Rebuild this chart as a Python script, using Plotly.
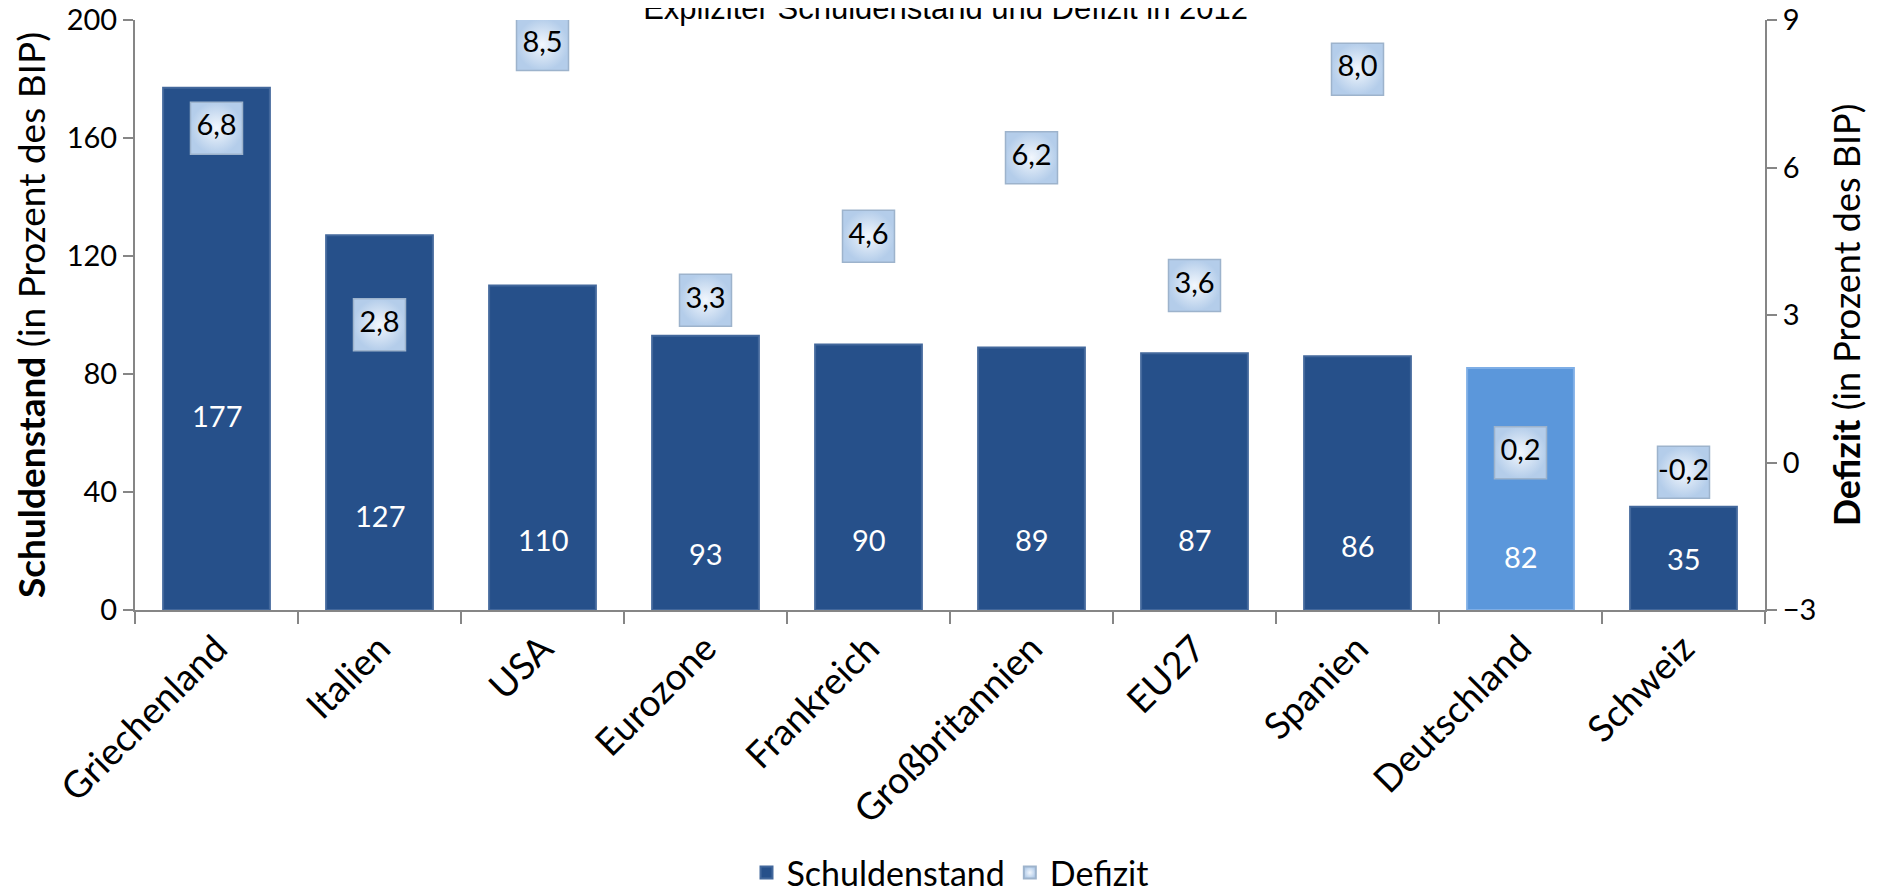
import plotly.graph_objects as go

# data
categories = ['Griechenland', 'Italien', 'USA', 'Eurozone', 'Frankreich',
              'Großbritannien', 'EU27', 'Spanien', 'Deutschland', 'Schweiz']
debt = [177, 127, 110, 93, 90, 89, 87, 86, 82, 35]
deficit = [6.8, 2.8, 8.5, 3.3, 4.6, 6.2, 3.6, 8.0, 0.2, -0.2]

# where the white value labels sit inside the bars (left axis units)
debt_label_y = [66, 32, 24, 19, 24, 24, 24, 22, 18, 17.5]

DARK = '#26508a'
LIGHT = '#5b97db'
FONT = 'Lato, Calibri, sans-serif'

bar_colors = [LIGHT if c == 'Deutschland' else DARK for c in categories]
bar_lines = ['#7eaee6' if c == 'Deutschland' else '#43689c' for c in categories]

fig = go.Figure()

fig.add_trace(go.Bar(
    x=categories,
    y=debt,
    name='Schuldenstand',
    marker=dict(color=bar_colors, line=dict(color=bar_lines, width=2)),
    yaxis='y',
))

fig.add_trace(go.Scatter(
    x=categories,
    y=deficit,
    name='Defizit',
    mode='markers+text',
    text=[f'{v:.1f}'.replace('.', ',') for v in deficit],
    textposition='middle center',
    textfont=dict(family=FONT, size=29, color='black'),
    marker=dict(symbol='square', size=52, color='#b4cdea',
                gradient=dict(type='radial', color='#f2f7fd'),
                line=dict(color='#9db3cc', width=1.5)),
    yaxis='y2',
))

for cat, val, ly in zip(categories, debt, debt_label_y):
    fig.add_annotation(x=cat, y=ly, xref='x', yref='y', text=str(val),
                       showarrow=False,
                       font=dict(family=FONT, size=29, color='white'))

axis_grey = '#868686'

fig.update_layout(
    width=1879, height=889,
    margin=dict(l=127, r=122, t=12, b=287),
    paper_bgcolor='white',
    plot_bgcolor='white',
    font=dict(family=FONT, size=29, color='black'),
    title=dict(text='Expliziter Schuldenstand und Defizit in 2012',
               x=0.499, xanchor='center', y=1.0, yanchor='middle',
               font=dict(family='Liberation Sans, Arial', size=31, color='black')),
    bargap=0.345,
    showlegend=True,
    legend=dict(orientation='h', x=0.5, xanchor='center',
                yref='container', y=0.027, yanchor='middle',
                font=dict(family=FONT, size=34), itemsizing='constant'),
    xaxis=dict(
        automargin=False,
        range=[-0.5, len(categories) - 0.5],
        showline=True, linecolor=axis_grey, linewidth=2,
        ticks='outside', tickson='boundaries', ticklen=12, tickcolor=axis_grey, tickwidth=2,
        tickangle=-45, tickfont=dict(family=FONT, size=37),
        showgrid=False,
    ),
    yaxis=dict(
        automargin=False, ticklabeloverflow='allow',
        range=[0, 200], tickvals=[0, 40, 80, 120, 160, 200],
        showline=True, linecolor=axis_grey, linewidth=2,
        ticks='outside', ticklen=10, tickcolor=axis_grey, tickwidth=2,
        tickfont=dict(family=FONT, size=29),
        showgrid=False, zeroline=False,
        title=dict(text='<b>Schuldenstand</b> (in Prozent des BIP)',
                   font=dict(family=FONT, size=37), standoff=34),
    ),
    yaxis2=dict(
        automargin=False, ticklabeloverflow='allow',
        range=[-3, 9], tickvals=[-3, 0, 3, 6, 9],
        overlaying='y', side='right', anchor='x',
        showline=True, linecolor=axis_grey, linewidth=2,
        ticks='outside', ticklen=10, tickcolor=axis_grey, tickwidth=2,
        tickfont=dict(family=FONT, size=29),
        showgrid=False, zeroline=False,
        title=dict(text='<b>Defizit</b> (in Prozent des BIP)',
                   font=dict(family=FONT, size=36), standoff=19),
    ),
)

fig.write_html('out.html')
